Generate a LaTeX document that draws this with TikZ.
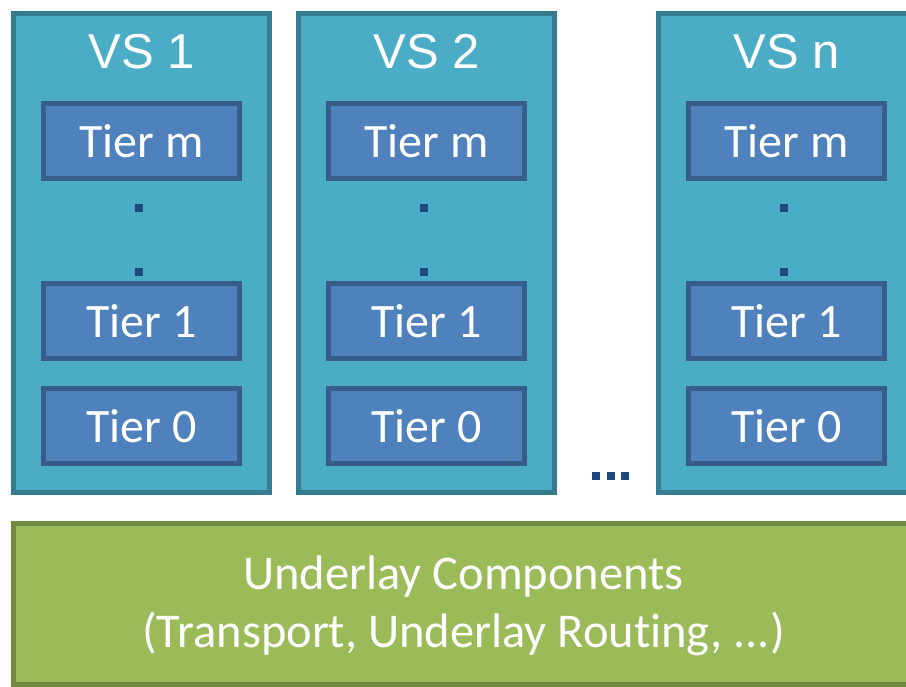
\documentclass[tikz,border=0pt]{standalone}
\usepackage{fontspec}
\setmainfont[Ligatures=CommonOff]{Carlito}
\newfontfamily\arialfont{Liberation Sans}
\definecolor{vsfill}{HTML}{4BACC6}
\definecolor{vsline}{HTML}{357D8E}
\definecolor{tierfill}{HTML}{4F81BD}
\definecolor{tierline}{HTML}{385D8A}
\definecolor{ulfill}{HTML}{9BBB59}
\definecolor{ulline}{HTML}{728A3F}
\definecolor{dotcol}{HTML}{1F497D}
\begin{document}
\begin{tikzpicture}[x=1pt,y=-1pt,
  vsbox/.style={draw=vsline,fill=vsfill,line width=5pt,minimum width=256pt,minimum height=479pt,inner sep=0pt},
  tierbox/.style={draw=tierline,fill=tierfill,line width=5pt,minimum width=196pt,minimum height=75pt,inner sep=0pt,
    text=white,font=\fontsize{48}{52}\selectfont},
  vslabel/.style={text=white,font=\arialfont\fontsize{49}{52}\selectfont,inner sep=0pt},
  vdot/.style={fill=dotcol,minimum size=8pt,inner sep=0pt},
  ulbox/.style={draw=ulline,fill=ulfill,line width=5pt,minimum width=900pt,minimum height=161pt,inner sep=0pt,
    text=white,align=center,font=\fontsize{48.5}{58}\selectfont}]
\useasboundingbox (0,0) rectangle (906,687);
\fill[white] (0,0) rectangle (906,687);

% virtual stacks
\foreach \n/\cx/\lab in {1/141.5/VS 1, 2/426.5/VS 2, 3/786.5/VS n}{
  \node[vsbox] (vs\n) at (\cx,253) {};
  \node[vslabel] (vs\n-lab) at (\cx,52) {\lab};
  \node[tierbox] (vs\n-tm) at (\cx,141) {Tier m};
  \node[vdot] (vs\n-d1) at ([xshift=-2.5pt]\cx,208) {};
  \node[vdot] (vs\n-d2) at ([xshift=-2.5pt]\cx,272) {};
  \node[tierbox] (vs\n-t1) at (\cx,321) {Tier 1};
  \node[tierbox] (vs\n-t0) at (\cx,426) {Tier 0};
}

% ellipsis between stacks
\node[vdot] (el1) at (596,476) {};
\node[vdot] (el2) at (610.5,476) {};
\node[vdot] (el3) at (625,476) {};

% underlay layer
\node[ulbox] (ul) at (463.5,604) {};
\node[text=white,align=center,font=\fontsize{48.5}{58}\selectfont,inner sep=0pt] (ul-text) at (463.5,606)
  {Underlay Components\\(Transport, Underlay Routing, ...)};
\end{tikzpicture}
\end{document}
